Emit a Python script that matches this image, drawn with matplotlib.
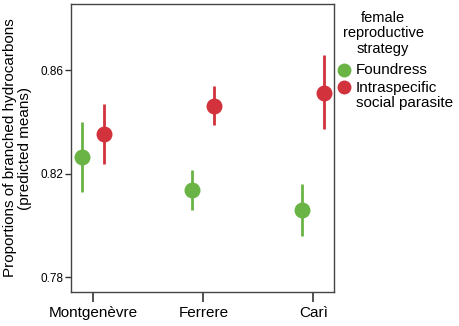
import matplotlib
matplotlib.use("Agg")
import matplotlib.pyplot as plt
from matplotlib.lines import Line2D

plt.rcParams['font.family'] = ['Liberation Sans', 'DejaVu Sans']

sites = ["Montgenèvre", "Ferrere", "Carì"]
strategies = ["Foundress", "Intraspecific\nsocial parasite"]
legend_title = "female\nreproductive\nstrategy"
foundress_mean = [0.8266, 0.8137, 0.8060]
foundress_low = [0.8128, 0.8061, 0.7959]
foundress_high = [0.8399, 0.8213, 0.8159]
parasite_mean = [0.8353, 0.8462, 0.8513]
parasite_low = [0.8236, 0.8387, 0.8371]
parasite_high = [0.8469, 0.8538, 0.8658]
yticks = [0.78, 0.82, 0.86]

green = "#6ab446"
red = "#d2323b"
colors = [green, red]

W, H = 459, 326
fig = plt.figure(figsize=(W / 100, H / 100), dpi=100)
ax = fig.add_axes([71 / W, 1 - 292 / H, (334 - 71) / W, (292 - 4) / H])

offset = 0.1
for i in range(len(sites)):
    ax.plot([i - offset, i - offset], [foundress_low[i], foundress_high[i]], color=green, lw=2, solid_capstyle='butt', zorder=2)
    ax.plot(i - offset, foundress_mean[i], 'o', color=green, ms=11.5, mew=0, zorder=3)
    ax.plot([i + offset, i + offset], [parasite_low[i], parasite_high[i]], color=red, lw=2, solid_capstyle='butt', zorder=2)
    ax.plot(i + offset, parasite_mean[i], 'o', color=red, ms=11.5, mew=0, zorder=3)

ax.set_xlim(-0.203, 2.188)
ax.set_ylim(0.7743, 0.8856)
ax.set_xticks(range(len(sites)))
ax.set_xticklabels(sites, fontsize=11)
ax.set_yticks(yticks)
ax.set_yticklabels([f"{v:.2f}" for v in yticks], fontsize=8.5)
ax.tick_params(axis='x', length=7, width=1.2, color='#333333', pad=3)
ax.tick_params(axis='y', length=4.5, width=1, color='#333333', pad=1)
for s in ax.spines.values():
    s.set_color('#444444')
    s.set_linewidth(1.0)
ax.set_ylabel("Proportions of branched hydrocarbons\n(predicted means)", fontsize=11, linespacing=1.1, labelpad=6)

# legend (manual layout in figure pixel coordinates)
def fx(px):
    return px / W

def fy(py):
    return 1 - py / H

fig.text(fx(383), fy(33.5), legend_title, fontsize=10.5, ha='center', va='center',
         multialignment='center', linespacing=1.13)
marker_y = [70, 87.3]
for c, my in zip(colors, marker_y):
    fig.add_artist(Line2D([fx(344.3)], [fy(my)], marker='o', ls='', color=c, ms=10, mew=0,
                          transform=fig.transFigure))
fig.text(fx(356), fy(70), strategies[0], fontsize=11, ha='left', va='center')
fig.text(fx(356), fy(95.3), strategies[1], fontsize=11, ha='left', va='center', linespacing=1.05)

fig.savefig("out.png", dpi=100)
